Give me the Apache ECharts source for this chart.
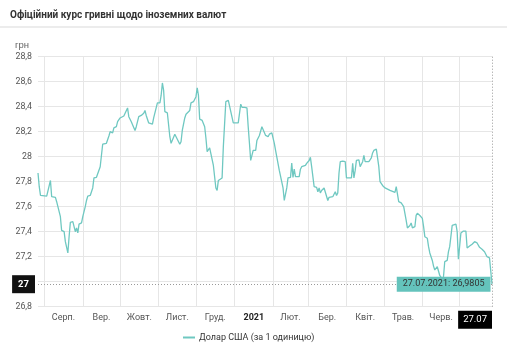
<!DOCTYPE html>
<html><head><meta charset="utf-8">
<script src="https://cdn.jsdelivr.net/npm/echarts@6/dist/echarts.min.js"></script>
<style>html,body{margin:0;padding:0;background:#fff;}#c{width:507px;height:350px;}</style>
</head><body><div id="c"></div>
<script>
const chartTitle = 'Офіційний курс гривні щодо іноземних валют';
const unitLabel = 'грн';
const seriesName = 'Долар США (за 1 одиницю)';

const dates = [
'2020-07-27','2020-07-28','2020-07-29','2020-08-03','2020-08-04','2020-08-06','2020-08-07','2020-08-10','2020-08-11','2020-08-12',
'2020-08-14','2020-08-15','2020-08-17','2020-08-18','2020-08-20','2020-08-21','2020-08-22','2020-08-24','2020-08-25','2020-08-26',
'2020-08-27','2020-08-28','2020-08-29','2020-08-31','2020-09-01','2020-09-03','2020-09-04','2020-09-05','2020-09-07','2020-09-09',
'2020-09-10','2020-09-12','2020-09-13','2020-09-15','2020-09-16','2020-09-17','2020-09-20','2020-09-22','2020-09-23','2020-09-25',
'2020-09-26','2020-09-28','2020-09-29','2020-10-01','2020-10-04','2020-10-05','2020-10-07','2020-10-08','2020-10-10','2020-10-11',
'2020-10-13','2020-10-14','2020-10-16','2020-10-18','2020-10-20','2020-10-21','2020-10-22','2020-10-24','2020-10-27','2020-10-28',
'2020-10-30','2020-10-31','2020-11-02','2020-11-03','2020-11-04','2020-11-05','2020-11-06','2020-11-08','2020-11-10','2020-11-11',
'2020-11-12','2020-11-14','2020-11-15','2020-11-17','2020-11-18','2020-11-19','2020-11-20','2020-11-22','2020-11-23','2020-11-26',
'2020-11-27','2020-11-29','2020-12-01','2020-12-02','2020-12-03','2020-12-04','2020-12-06','2020-12-08','2020-12-09','2020-12-10',
'2020-12-12','2020-12-13','2020-12-15','2020-12-16','2020-12-17','2020-12-18','2020-12-19','2020-12-20','2020-12-22','2020-12-23',
'2020-12-25','2020-12-27','2020-12-28','2020-12-29','2020-12-30','2020-12-31','2021-01-02','2021-01-04','2021-01-06','2021-01-07',
'2021-01-09','2021-01-11','2021-01-12','2021-01-13','2021-01-14','2021-01-16','2021-01-18','2021-01-19','2021-01-21','2021-01-22',
'2021-01-23','2021-01-24','2021-01-26','2021-01-28','2021-01-29','2021-01-31','2021-02-02','2021-02-03','2021-02-04','2021-02-06',
'2021-02-07','2021-02-09','2021-02-10','2021-02-12','2021-02-13','2021-02-15','2021-02-16','2021-02-17','2021-02-18','2021-02-19',
'2021-02-22','2021-02-23','2021-02-24','2021-02-25','2021-02-27','2021-02-28','2021-03-02','2021-03-03','2021-03-04','2021-03-06',
'2021-03-07','2021-03-08','2021-03-09','2021-03-10','2021-03-11','2021-03-12','2021-03-14','2021-03-15','2021-03-17','2021-03-18',
'2021-03-19','2021-03-21','2021-03-22','2021-03-23','2021-03-24','2021-03-25','2021-03-26','2021-03-27','2021-03-29','2021-03-31',
'2021-04-01','2021-04-05','2021-04-06','2021-04-07','2021-04-08','2021-04-09','2021-04-11','2021-04-12','2021-04-14','2021-04-15',
'2021-04-16','2021-04-17','2021-04-19','2021-04-21','2021-04-22','2021-04-23','2021-04-25','2021-04-27','2021-04-28','2021-04-30',
'2021-05-02','2021-05-06','2021-05-10','2021-05-11','2021-05-13','2021-05-15','2021-05-17','2021-05-19','2021-05-20','2021-05-22',
'2021-05-23','2021-05-24','2021-05-26','2021-05-27','2021-05-28','2021-05-30','2021-06-01','2021-06-02','2021-06-03','2021-06-05',
'2021-06-06','2021-06-07','2021-06-09','2021-06-10','2021-06-11','2021-06-13','2021-06-15','2021-06-17','2021-06-18','2021-06-19',
'2021-06-21','2021-06-22','2021-06-23','2021-06-25','2021-06-28','2021-06-29','2021-06-30','2021-07-02','2021-07-04','2021-07-06',
'2021-07-07','2021-07-09','2021-07-11','2021-07-13','2021-07-15','2021-07-17','2021-07-19','2021-07-21','2021-07-22','2021-07-23',
'2021-07-25','2021-07-26','2021-07-27'
];
const rates = [
27.87,27.76,27.69,27.685,27.68,27.81,27.68,27.675,27.64,27.60,
27.52,27.41,27.40,27.32,27.23,27.36,27.475,27.48,27.47,27.40,
27.43,27.39,27.46,27.47,27.52,27.60,27.65,27.685,27.69,27.75,
27.83,27.835,27.85,27.92,28.01,28.10,28.107,28.166,28.20,28.19,
28.23,28.24,28.28,28.31,28.326,28.334,28.39,28.32,28.28,28.27,
28.21,28.24,28.32,28.33,28.347,28.37,28.33,28.27,28.26,28.31,
28.39,28.43,28.43,28.49,28.59,28.53,28.36,28.35,28.16,28.107,
28.12,28.18,28.19,28.12,28.10,28.12,28.21,28.31,28.34,28.37,
28.43,28.44,28.48,28.55,28.49,28.30,28.29,28.24,28.15,28.04,
28.07,28.06,27.93,27.84,27.75,27.73,27.81,27.82,27.83,28.08,
28.44,28.45,28.44,28.36,28.37,28.27,28.27,28.27,28.42,28.395,
28.395,28.39,28.24,28.107,27.97,28.05,28.05,28.13,28.17,28.155,
28.24,28.245,28.17,28.16,28.18,28.19,28.107,28.05,28.04,27.89,
27.88,27.75,27.65,27.75,27.83,27.835,27.95,27.835,27.90,27.84,
27.84,27.90,27.92,27.91,27.93,27.947,27.97,27.995,27.92,27.76,
27.75,27.755,27.72,27.75,27.71,27.73,27.75,27.74,27.65,27.675,
27.69,27.68,27.69,27.72,27.69,27.71,27.87,27.96,27.965,27.96,
27.83,27.83,27.947,27.83,27.89,27.97,27.975,27.92,27.96,28.01,
27.96,27.95,27.96,27.99,28.03,28.05,28.06,27.92,27.80,27.77,
27.75,27.73,27.715,27.76,27.64,27.63,27.60,27.49,27.43,27.45,
27.47,27.43,27.44,27.53,27.547,27.53,27.507,27.44,27.36,27.347,
27.28,27.23,27.17,27.125,27.094,27.12,27.05,27.02,27.04,27.16,
27.17,27.24,27.28,27.45,27.46,27.40,27.18,27.39,27.405,27.405,
27.27,27.285,27.30,27.32,27.31,27.275,27.26,27.24,27.23,27.20,
27.19,27.19,26.9805
];
const monthStarts = ['2020-08-01','2020-09-01','2020-10-01','2020-11-01','2020-12-01','2021-01-01',
  '2021-02-01','2021-03-01','2021-04-01','2021-05-01','2021-06-01','2021-07-01'];
const monthLabels = ['Серп.','Вер.','Жовт.','Лист.','Груд.','2021','Лют.','Бер.','Квіт.','Трав.','Черв.'];
const yMin = 26.8, yMax = 28.8, yStep = 0.2;

const toTs = s => { const p = s.split('-').map(Number); return new Date(p[0], p[1]-1, p[2]).getTime(); };
const seriesData = dates.map((d, i) => [toTs(d), rates[i]]);
const startTs = toTs(dates[0]);
const lastDate = dates[dates.length - 1];
const endTs = toTs(lastDate);
const lastVal = rates[rates.length - 1];
const msTs = monthStarts.map(toTs);
const labelTs = monthLabels.map((_, i) => (msTs[i] + msTs[i + 1]) / 2);
const dp = lastDate.split('-');
const tipText = dp[2] + '.' + dp[1] + '.' + dp[0] + ': ' + String(lastVal).replace('.', ',');
const endLabel = dp[2] + '.' + dp[1];
const FONT = 'Roboto, "Noto Sans", sans-serif';
const lineColor = '#6fc8c1';

const chart = echarts.init(document.getElementById('c'), null, {renderer: 'canvas'});
chart.setOption({
  animation: false,
  textStyle: {fontFamily: FONT},
  title: {text: chartTitle, left: 5, top: 5, textStyle: {fontSize: 10, fontWeight: 'bold', color: '#333', fontFamily: FONT}},
  graphic: [
    {type: 'line', shape: {x1: 0, y1: 27, x2: 507, y2: 27}, style: {stroke: '#e6e6e6', lineWidth: 1.5}, silent: true},
    {type: 'text', left: 15, top: 40, style: {text: unitLabel, fontSize: 9.5, fill: '#666', font: '9.5px ' + FONT}}
  ],
  legend: {
    bottom: 3, left: 178, itemWidth: 12, itemHeight: 2, icon: 'rect', itemGap: 5,
    textStyle: {fontSize: 9, color: '#333', fontFamily: FONT, padding: [0, 0, 0, -1]},
    data: [seriesName]
  },
  grid: {left: 38, right: 15, top: 56.7, bottom: 43.3, containLabel: false},
  xAxis: {
    type: 'value', min: startTs, max: endTs, scale: true,
    axisLine: {show: false},
    axisTick: {show: false, customValues: msTs},
    splitLine: {show: true, lineStyle: {color: '#e6e6e6', width: 1}},
    axisLabel: {
      customValues: labelTs, fontSize: 9, color: '#555', margin: 7, fontFamily: FONT,
      formatter: function (v) {
        let b = 0;
        for (let i = 1; i < labelTs.length; i++) if (Math.abs(labelTs[i] - v) < Math.abs(labelTs[b] - v)) b = i;
        const s = monthLabels[b];
        return /^\d+$/.test(s) ? '{b|' + s + '}' : s;
      },
      rich: {b: {fontWeight: 'bold', color: '#222', fontSize: 9, fontFamily: FONT}}
    }
  },
  yAxis: {
    type: 'value', min: yMin, max: yMax, interval: yStep,
    axisLine: {show: false}, axisTick: {show: false},
    splitLine: {lineStyle: {color: '#e6e6e6', width: 1}},
    axisLabel: {fontSize: 8.8, color: '#555', margin: 6, fontFamily: FONT,
      formatter: v => String(Number(v.toFixed(1))).replace('.', ',')}
  },
  series: [{
    name: seriesName, type: 'line', data: seriesData, showSymbol: false, symbol: 'none',
    lineStyle: {color: lineColor, width: 1.3}, itemStyle: {color: lineColor},
    markLine: {
      silent: true, symbol: 'none', animation: false,
      lineStyle: {type: [1, 2], color: '#999', width: 1},
      data: [
        {yAxis: lastVal, label: {show: true, position: 'start', distance: 3, formatter: String(Math.round(lastVal)),
          backgroundColor: '#111', color: '#fff', padding: [4, 6], fontSize: 9.5, fontWeight: 'bold', fontFamily: FONT}},
        {xAxis: endTs, label: {show: false}}
      ]
    },
    markPoint: {
      silent: true, animation: false, symbol: 'circle', symbolSize: 1, itemStyle: {color: 'transparent'},
      data: [
        {coord: [endTs, lastVal], label: {show: true, position: 'left', distance: 1, formatter: tipText,
          backgroundColor: '#64c3bc', color: '#333', padding: [3, 6], fontSize: 9, fontFamily: FONT}},
        {coord: [endTs, yMin], label: {show: true, position: 'inside', align: 'right', verticalAlign: 'top', offset: [0, 4],
          formatter: endLabel, backgroundColor: '#000', color: '#fff', padding: [4, 5], fontSize: 9.5, fontFamily: FONT}}
      ]
    }
  }]
});
</script></body></html>
